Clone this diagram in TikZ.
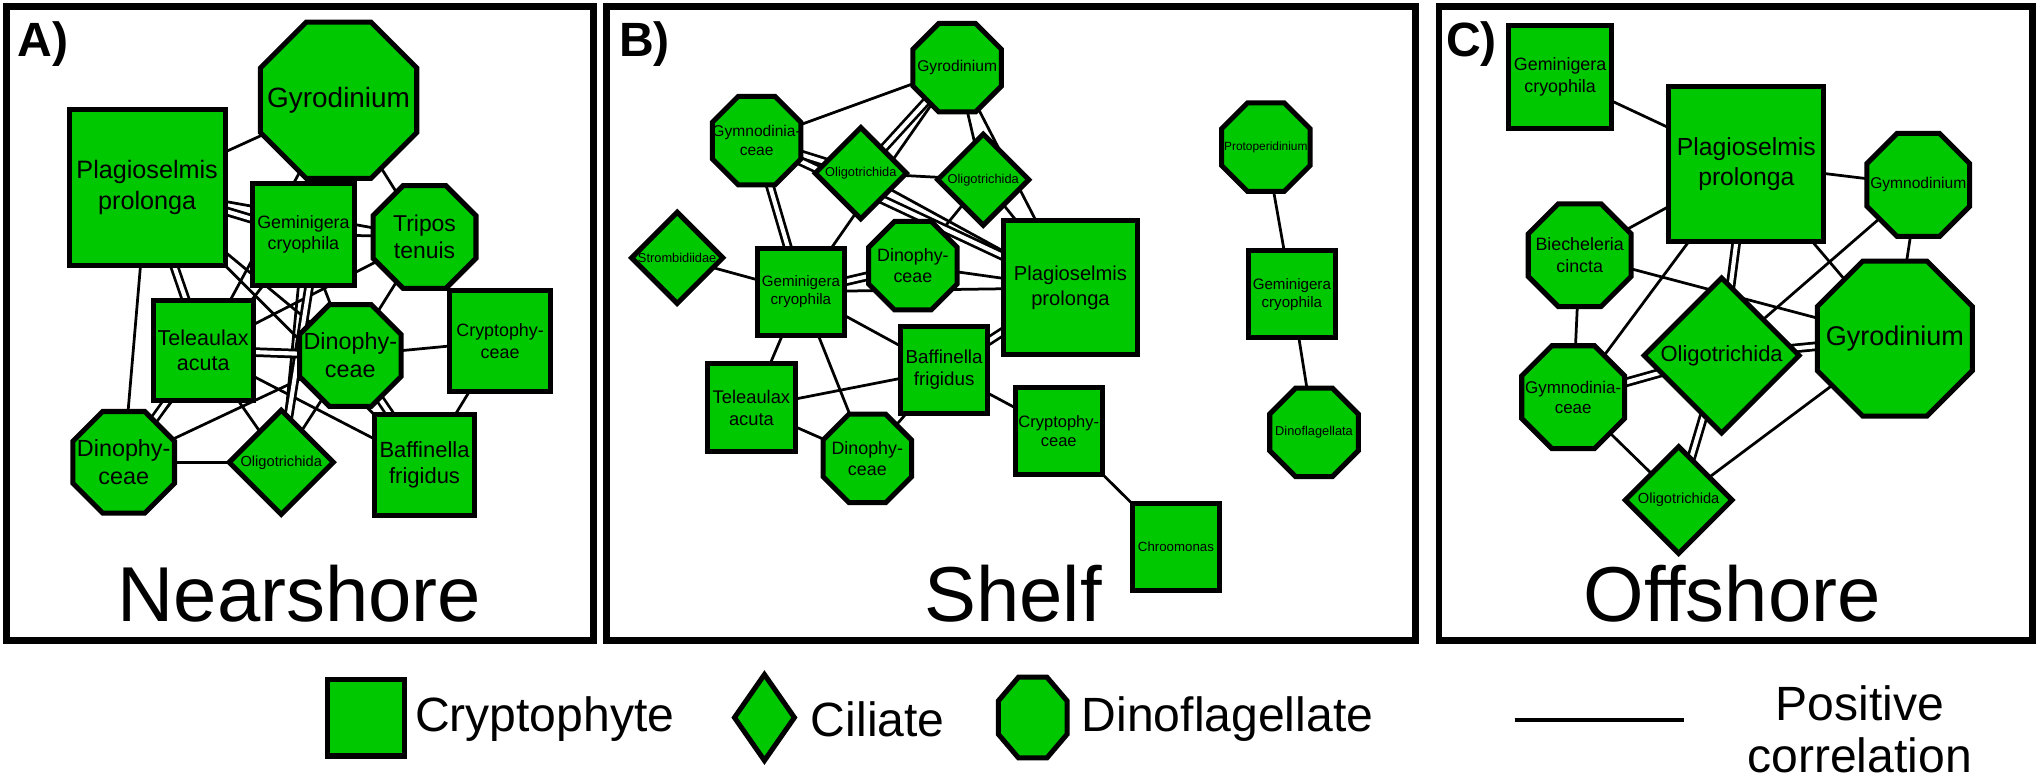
\documentclass[tikz,border=0pt]{standalone}
\usepackage{fontspec}
\setmainfont{Liberation Sans}
\usetikzlibrary{shapes.geometric}
\pgfdeclarelayer{bg}
\pgfsetlayers{bg,main}
\definecolor{ngreen}{RGB}{0,200,0}
\newcommand\fs[1]{\fontsize{#1pt}{\dimexpr #1pt*6/5\relax}\selectfont}
\tikzset{
 nd/.style={draw=black,fill=ngreen,line width=1.1pt,inner sep=0pt,outer sep=0pt},
 sqr/.style={nd,rectangle},
 dia/.style={nd,diamond},
 oct/.style={nd,regular polygon,regular polygon sides=8},
 lab/.style={align=center,inner sep=0pt},
 ed/.style={line width=0.6pt},
 dbl/.style={line width=0.6pt,double=white,double distance=0.9pt},
 frame/.style={line width=1.5pt},
 ttl/.style={font=\fs{17}},
 plbl/.style={font=\bfseries\fs{10.5}},
 lgt/.style={font=\fs{10.5},inner sep=0pt},
}
% name, x, y, size, fontsize, text
\newcommand\nsq[6]{\node[sqr,minimum size=#4*0.01cm,label={[lab,font=\fs{#5}]center:#6}] (#1) at (#2,#3) {};}
\newcommand\ndi[6]{\node[dia,minimum size=#4*0.01cm,label={[lab,font=\fs{#5}]center:#6}] (#1) at (#2,#3) {};}
\newcommand\noc[6]{\node[oct,minimum size=#4*0.01082cm,label={[lab,font=\fs{#5}]center:#6}] (#1) at (#2,#3) {};}
\begin{document}
\begin{tikzpicture}[x=0.01cm,y=-0.01cm]
\useasboundingbox (0,0) rectangle (1568,601);
% frames
\draw[frame] (5,5) rectangle (456,492);
\draw[frame] (466,5) rectangle (1087,492);
\draw[frame] (1105,5) rectangle (1561,492);
\node[plbl] (la) at (33,34) {A)};
\node[plbl] (lb) at (495,34) {B)};
\node[plbl] (lc) at (1130,34) {C)};
\node[ttl] (tA) at (230,456) {Nearshore};
\node[ttl] (tB) at (778,456) {Shelf};
\node[ttl] (tC) at (1330,456) {Offshore};
% ---------- Panel A
\noc{aGy}{260}{77}{120}{6.1}{Gyrodinium}
\nsq{aPl}{113}{144}{120}{5.5}{Plagioselmis\\prolonga}
\nsq{aGe}{233}{180}{78}{3.9}{Geminigera\\cryophila}
\noc{aTr}{326}{182}{79}{5}{Tripos\\tenuis}
\nsq{aTe}{156}{269}{77}{4.7}{Teleaulax\\acuta}
\noc{aDc}{269}{273}{78}{5.1}{Dinophy-\\ceae}
\nsq{aCr}{384}{262}{78}{3.9}{Cryptophy-\\ceae}
\noc{aDb}{95}{355}{78}{5.1}{Dinophy-\\ceae}
\ndi{aOl}{216}{355}{80}{3.2}{Oligotrichida}
\nsq{aBa}{326}{357}{77}{4.8}{Baffinella\\frigidus}
% ---------- Panel B
\noc{bGy}{735}{52}{68}{3.4}{Gyrodinium}
\noc{bGm}{581}{108}{68}{3.4}{Gymnodinia-\\ceae}
\ndi{bO1}{661}{133}{70}{2.8}{Oligotrichida}
\ndi{bO2}{755}{138}{70}{2.8}{Oligotrichida}
\ndi{bSt}{520}{198}{70}{2.8}{Strombidiidae}
\nsq{bGe}{615}{224}{67}{3.3}{Geminigera\\cryophila}
\noc{bDm}{701}{204}{68}{3.9}{Dinophy-\\ceae}
\nsq{bPl}{822}{221}{103}{4.4}{Plagioselmis\\prolonga}
\nsq{bBa}{725}{284}{67}{4.1}{Baffinella\\frigidus}
\nsq{bTe}{577}{313}{67}{4}{Teleaulax\\acuta}
\noc{bDb}{666}{352}{68}{3.9}{Dinophy-\\ceae}
\nsq{bCr}{813}{331}{67}{3.6}{Cryptophy-\\ceae}
\nsq{bCh}{903}{420}{67}{2.9}{Chroomonas}
\noc{bPr}{972}{113}{68}{2.6}{Protoperidinium}
\nsq{bG2}{992}{226}{67}{3.3}{Geminigera\\cryophila}
\noc{bDf}{1009}{332}{68}{2.8}{Dinoflagellata}
% ---------- Panel C
\nsq{cGe}{1198}{59}{79}{3.9}{Geminigera\\cryophila}
\nsq{cPl}{1341}{126}{119}{5.4}{Plagioselmis\\prolonga}
\noc{cGn}{1473}{142}{79}{3.4}{Gymnodinium}
\noc{cBi}{1213}{196}{79}{3.9}{Biecheleria\\cincta}
\noc{cGy}{1455}{260}{119}{5.9}{Gyrodinium}
\ndi{cOb}{1322}{273}{119}{4.8}{Oligotrichida}
\noc{cGc}{1208}{305}{79}{3.7}{Gymnodinia-\\ceae}
\ndi{cOs}{1289}{384}{82}{3.2}{Oligotrichida}
% ---------- legend
\node[sqr,minimum size=0.59cm] (lSq) at (281,551) {};
\node[dia,minimum width=0.46cm,minimum height=0.66cm] (lDi) at (587,551) {};
\node[oct,minimum size=0.62*1.082cm,xscale=0.85] (lOc) at (793,551) {};
\node[lgt,anchor=west] (tCr) at (318,552) {Cryptophyte};
\node[lgt,anchor=west] (tCi) at (622,552) {Ciliate};
\node[lgt,anchor=west] (tDi) at (830,552) {Dinoflagellate};
\coordinate (le1) at (1163,553);
\coordinate (le2) at (1293,553);
\draw[line width=1pt] (le1) -- (le2);
\node[lgt] (tPo) at (1428,540) {Positive};
\node[lgt] (tCo) at (1428,580) {correlation};
% ---------- edges
\begin{pgfonlayer}{bg}
\foreach \a/\b in {aPl/aGy,aGy/aTr,aGy/aTe,aPl/aTr,aGe/aTr,aPl/aDb,aPl/aDc,aPl/aBa,aGe/aDc,aGe/aDb,aTr/aTe,aTr/aDc,aTe/aBa,aTe/aOl,aDc/aCr,aDc/aOl,aDc/aDb,aCr/aBa,aDb/aOl,aGe/aOl,
 bGy/bGm,bGy/bGe,bGy/bO2,bGy/bPl,bO1/bO2,bO1/bPl,bO2/bDm,bO2/bPl,bSt/bGe,bGe/bPl,bGe/bBa,bGe/bTe,bGe/bDb,bDm/bPl,bBa/bTe,bBa/bDb,bBa/bCr,bTe/bDb,bCr/bCh,bPr/bG2,bG2/bDf,
 cGe/cPl,cPl/cGn,cPl/cBi,cPl/cGc,cPl/cGy,cGn/cGy,cGn/cOb,cBi/cGy,cBi/cGc,cGc/cOs,cOs/cGy}
 \draw[ed] (\a.center) -- (\b.center);
\foreach \a/\b in {aGy/aGe,aGy/aOl,aPl/aGe,aPl/aTe,aTe/aDc,aTe/aDb,aDc/aBa,
 bGy/bO1,bGm/bO1,bGm/bPl,bGm/bGe,bGe/bDm,bBa/bPl,
 cPl/cOb,cGc/cOb,cOb/cGy,cOb/cOs}
 \draw[dbl] (\a.center) -- (\b.center);
\end{pgfonlayer}
\end{tikzpicture}
\end{document}
